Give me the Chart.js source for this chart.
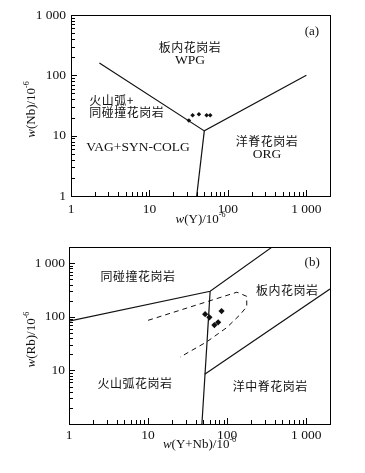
<!DOCTYPE html>
<html><head><meta charset="utf-8">
<script src="https://cdn.jsdelivr.net/npm/chart.js@4"></script>
<style>
body{margin:0;background:#fff;}
#ca{position:absolute;left:0;top:0;}
#cb{position:absolute;left:0;top:235px;}
</style>
</head><body>
<canvas id="ca" width="365" height="235"></canvas>
<canvas id="cb" width="365" height="238"></canvas>
<script>
// ---- Chart (a): Nb vs Y ----
const aTicksX = [1, 10, 100, 1000];
const aTicksY = [1, 10, 100, 1000];
const aSampleY  = [31.8, 35.5, 42.7, 53.5, 59.5];
const aSampleNb = [17.8, 21.8, 22.6, 21.8, 21.8];
const aWpgLineY  = [2.3, 50, 1000];
const aWpgLineNb = [160, 12, 100];
const aOrgLineY  = [50, 40];
const aOrgLineNb = [12, 1];

// ---- Chart (b): Rb vs Y+Nb ----
const bTicksX = [1, 10, 100, 1000];
const bTicksY = [10, 100, 1000];
const bSampleYNb = [52.7, 59.7, 85, 77, 69];
const bSampleRb  = [112, 98, 128, 79, 70];
const bSynLineX = [1, 61, 370];
const bSynLineY = [83, 300, 2000];
const bVagLineX = [61, 48];
const bVagLineY = [300, 1];
const bOrgLineX = [52, 2000];
const bOrgLineY = [8.5, 330];
const bPostX = [10, 133, 177, 177, 146, 99, 55, 25.4];
const bPostY = [86, 288, 241, 155, 110, 63, 34, 17.7];

// minor tick multipliers within each decade
const decadeSteps = [1, 2, 3, 4, 5, 6, 7, 8, 9];

const zip = (xs, ys) => xs.map((x, i) => ({x: x, y: ys[i]}));
const fmt = v => v === 1000 ? '1 000' : String(v);
const SERIF = '"Liberation Serif", "DejaVu Serif", serif';
const CJK = '"Noto Sans CJK SC", sans-serif';

function drawFrame(chart) {
  const ctx = chart.ctx, a = chart.chartArea;
  const L = Math.round(a.left), R = Math.round(a.right);
  const T = Math.round(a.top), B = Math.round(a.bottom);
  ctx.save();
  ctx.fillStyle = '#000';
  ctx.fillRect(L, T, R - L + 1, 1);
  ctx.fillRect(L, B, R - L + 1, 1);
  ctx.fillRect(L, T, 1, B - T + 1);
  ctx.fillRect(R, T, 1, B - T + 1);
  const xs = chart.scales.x, ys = chart.scales.y;
  for (let d = 0; d < 4; d++) {
    for (const k of decadeSteps) {
      const v = k * Math.pow(10, d);
      const len = k === 1 ? 6 : 4;
      const px = xs.getPixelForValue(v);
      if (px > L + 1 && px < R - 1) ctx.fillRect(Math.round(px), B - len, 1, len);
      const py = ys.getPixelForValue(v);
      if (py > T + 1 && py < B - 1) ctx.fillRect(L, Math.round(py), len, 1);
    }
  }
  ctx.restore();
}

// axis title pieces: italic "w", normal body, small raised exponent
function drawTitle(ctx, body, cx, cy, rotate) {
  const parts = [
    {t: 'w', f: 'italic 13px ' + SERIF, dy: 0},
    {t: body, f: '13px ' + SERIF, dy: 0},
    {t: '-6', f: '8px ' + SERIF, dy: -5}
  ];
  ctx.save();
  ctx.translate(cx, cy);
  if (rotate) ctx.rotate(-Math.PI / 2);
  let w = 0;
  for (const p of parts) { ctx.font = p.f; p.w = ctx.measureText(p.t).width; w += p.w; }
  let x = -w / 2;
  ctx.fillStyle = '#111';
  ctx.textBaseline = 'middle';
  ctx.textAlign = 'left';
  for (const p of parts) { ctx.font = p.f; ctx.fillText(p.t, x, p.dy); x += p.w; }
  ctx.restore();
}

function drawLabels(chart, cfg) {
  const ctx = chart.ctx, xs = chart.scales.x, ys = chart.scales.y, a = chart.chartArea;
  ctx.save();
  ctx.fillStyle = '#111';
  ctx.textBaseline = 'middle';
  for (const l of cfg.labels) {
    ctx.font = l.font;
    ctx.letterSpacing = l.spacing || '0px';
    ctx.textAlign = l.align || 'center';
    ctx.fillText(l.text, xs.getPixelForValue(l.x), ys.getPixelForValue(l.y));
  }
  ctx.letterSpacing = '0px';
  ctx.restore();
  drawTitle(ctx, cfg.xTitle, (a.left + a.right) / 2, cfg.xTitleY, false);
  drawTitle(ctx, cfg.yTitle, cfg.yTitleX, (a.top + a.bottom) / 2 + 4, true);
}

function makeChart(id, cfg) {
  return new Chart(document.getElementById(id), {
    type: 'scatter',
    data: {datasets: cfg.datasets},
    options: {
      responsive: false,
      animation: false,
      devicePixelRatio: 1,
      layout: {padding: cfg.padding},
      plugins: {legend: {display: false}, tooltip: {enabled: false}},
      scales: {
        x: {
          type: 'logarithmic', min: cfg.xMin, max: cfg.xMax,
          border: {display: false},
          grid: {display: false, drawTicks: false},
          afterBuildTicks: s => { s.ticks = cfg.xTicks.map(v => ({value: v})); },
          afterFit: s => { s.height = cfg.xHeight; },
          ticks: {color: '#111', font: {family: SERIF, size: 13.5}, padding: cfg.xPad,
                  maxRotation: 0, autoSkip: false, callback: v => fmt(v)},
          title: {display: false}
        },
        y: {
          type: 'logarithmic', min: cfg.yMin, max: cfg.yMax,
          border: {display: false},
          grid: {display: false, drawTicks: false},
          afterBuildTicks: s => { s.ticks = cfg.yTicks.map(v => ({value: v})); },
          afterFit: s => { s.width = cfg.yWidth; },
          ticks: {color: '#111', font: {family: SERIF, size: 13.5}, padding: cfg.yPad,
                  autoSkip: false, callback: v => fmt(v)},
          title: {display: false}
        }
      }
    },
    plugins: [{
      id: 'deco',
      afterDatasetsDraw: c => { drawFrame(c); },
      afterDraw: c => { drawLabels(c, cfg); }
    }]
  });
}

const solid = (xs, ys) => ({data: zip(xs, ys), showLine: true, borderColor: '#111',
  borderWidth: 1.2, pointRadius: 0, fill: false, tension: 0});

const cjkFont = '12px ' + CJK;
const latFont = '13.5px ' + SERIF;

makeChart('ca', {
  padding: {top: 15, right: 35, left: 0, bottom: 0},
  xMin: 1, xMax: 2000, yMin: 1, yMax: 1000,
  xTicks: aTicksX, yTicks: aTicksY,
  xHeight: 39, yWidth: 71, xPad: 5, yPad: 5,
  xTitle: '(Y)/10', yTitle: '(Nb)/10', xTitleY: 220, yTitleX: 32,
  datasets: [
    solid(aWpgLineY, aWpgLineNb),
    solid(aOrgLineY, aOrgLineNb),
    {data: zip(aSampleY, aSampleNb), pointStyle: 'rectRot', pointRadius: 2.3,
     backgroundColor: '#111', borderColor: '#111', borderWidth: 0}
  ],
  labels: [
    {text: '板内花岗岩', x: 32.8, y: 293, font: cjkFont, spacing: '0.5px'},
    {text: 'WPG', x: 32.8, y: 178, font: latFont},
    {text: '(a)', x: 1175, y: 540, font: '13px ' + SERIF},
    {text: '火山弧+', x: 1.71, y: 38.7, font: cjkFont, spacing: '0.5px', align: 'left'},
    {text: '同碰撞花岗岩', x: 1.71, y: 23.9, font: cjkFont, spacing: '0.5px', align: 'left'},
    {text: 'VAG+SYN-COLG', x: 7.14, y: 6.3, font: latFont},
    {text: '洋脊花岗岩', x: 314, y: 7.94, font: cjkFont, spacing: '0.5px'},
    {text: 'ORG', x: 314, y: 4.8, font: latFont}
  ]
});

makeChart('cb', {
  padding: {top: 7, right: 35, left: 0, bottom: 0},
  xMin: 1, xMax: 2000, yMin: 1, yMax: 2000,
  xTicks: bTicksX, yTicks: bTicksY,
  xHeight: 49, yWidth: 69, xPad: 3, yPad: 4,
  xTitle: '(Y+Nb)/10', yTitle: '(Rb)/10', xTitleY: 210, yTitleX: 32,
  datasets: [
    solid(bSynLineX, bSynLineY),
    solid(bVagLineX, bVagLineY),
    solid(bOrgLineX, bOrgLineY),
    Object.assign(solid(bPostX, bPostY), {borderDash: [5, 4], borderWidth: 1}),
    {data: zip(bSampleYNb, bSampleRb), pointStyle: 'rectRot', pointRadius: 3.1,
     backgroundColor: '#111', borderColor: '#111', borderWidth: 0}
  ],
  labels: [
    {text: '同碰撞花岗岩', x: 7.47, y: 560, font: cjkFont, spacing: '0.5px'},
    {text: '板内花岗岩', x: 575, y: 313, font: cjkFont, spacing: '0.5px'},
    {text: '火山弧花岗岩', x: 6.84, y: 5.8, font: cjkFont, spacing: '0.5px'},
    {text: '洋中脊花岗岩', x: 350, y: 4.94, font: cjkFont, spacing: '0.5px'},
    {text: '(b)', x: 1191, y: 1042, font: '13px ' + SERIF}
  ]
});
</script>
</body></html>
